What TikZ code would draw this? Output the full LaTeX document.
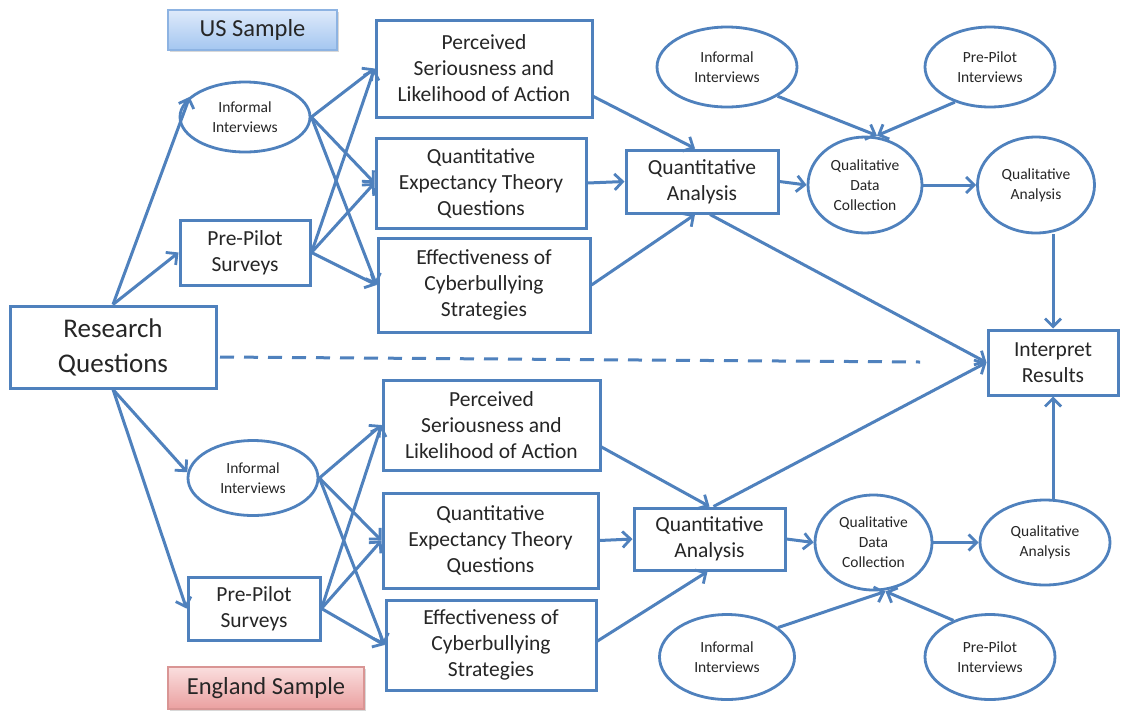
\documentclass[tikz,border=0pt]{standalone}
\usepackage{fontspec}
\setmainfont{Carlito}
\usetikzlibrary{arrows.meta,calc,shapes.geometric,shadows}

\definecolor{lineblue}{RGB}{79,129,189}
\definecolor{txt}{RGB}{38,38,38}

\begin{document}
\begin{tikzpicture}[x=1pt,y=-1pt,
  size/.style 2 args={minimum width=#1pt, minimum height=#2pt},
  box/.style={draw=lineblue, line width=3pt, fill=white, inner sep=0pt,
    align=center, text=txt, font=\fontsize{21.5}{26}\selectfont},
  oval/.style={ellipse, draw=lineblue, line width=2.8pt, fill=white, inner sep=0pt,
    align=center, text=txt, font=\fontsize{15.5}{20}\selectfont},
  tag/.style={inner sep=0pt, align=center, text=txt, font=\fontsize{24.5}{28}\selectfont,
    drop shadow={opacity=0.3, shadow xshift=1.5pt, shadow yshift=-1.5pt}},
  arr/.style={draw=lineblue, line width=3pt,
    -{Straight Barb[length=8pt, width=16pt, line width=2.8pt]}}
]
\useasboundingbox (0,0) rectangle (1135,716);
\fill[white] (0,0) rectangle (1135,716);

% sample labels
\node[tag, size={169}{40}, draw={rgb,255:red,141;green,179;blue,226}, line width=1.2pt,
  top color={rgb,255:red,222;green,234;blue,250}, bottom color={rgb,255:red,164;green,198;blue,240}]
  (us) at (252.5,30) {US Sample};
\node[tag, size={196}{42}, draw={rgb,255:red,217;green,149;blue,148}, line width=1.2pt,
  top color={rgb,255:red,250;green,222;blue,222}, bottom color={rgb,255:red,234;green,160;blue,160}]
  (eng) at (266,688) {England Sample};

% research questions
\node[box, size={206}{82}, font=\fontsize{27}{35}\selectfont] (rq) at (113,347) {Research\\Questions};

% upper branch
\node[oval, size={130}{70}] (inf1) at (245,117) {Informal\\Interviews};
\node[box, size={130}{65}] (pps1) at (245,252.5) {Pre-Pilot\\Surveys};
\node[box, size={216}{97}] (per1) at (484,68.5) {Perceived\\Seriousness and\\Likelihood of Action};
\node[box, size={210}{90}] (qet1) at (481,183) {Quantitative\\Expectancy Theory\\Questions};
\node[box, size={212}{94}] (eff1) at (484,285) {Effectiveness of\\Cyberbullying\\Strategies};
\node[box, size={152}{63}] (qan1) at (702,181.5) {Quantitative\\Analysis};
\node[oval, size={140}{80}] (ii1) at (727,67) {Informal\\Interviews};
\node[oval, size={130}{80}] (ppi1) at (990,67) {Pre-Pilot\\Interviews};
\node[oval, size={114}{96}] (qdc1) at (865,185) {Qualitative\\Data\\Collection};
\node[oval, size={117}{96}] (qal1) at (1036,185) {Qualitative\\Analysis};

% shared result
\node[box, size={130}{65}] (int) at (1053,362.5) {Interpret\\Results};

% lower branch
\node[oval, size={130}{75}] (inf2) at (253,478) {Informal\\Interviews};
\node[box, size={132}{63}] (pps2) at (254,608.5) {Pre-Pilot\\Surveys};
\node[box, size={217}{90}] (per2) at (491.5,425) {Perceived\\Seriousness and\\Likelihood of Action};
\node[box, size={215}{95}] (qet2) at (490.5,540.5) {Quantitative\\Expectancy Theory\\Questions};
\node[box, size={210}{90}] (eff2) at (491,645) {Effectiveness of\\Cyberbullying\\Strategies};
\node[box, size={151}{62}] (qan2) at (709.5,539) {Quantitative\\Analysis};
\node[oval, size={117}{95}] (qdc2) at (873.5,542.5) {Qualitative\\Data\\Collection};
\node[oval, size={130}{85}] (qal2) at (1045,542.5) {Qualitative\\Analysis};
\node[oval, size={135}{85}] (ii2) at (727,657) {Informal\\Interviews};
\node[oval, size={130}{85}] (ppi2) at (990,657) {Pre-Pilot\\Interviews};

% divider between the two samples
\coordinate (dl) at (220,357);
\coordinate (dr) at (920,362);
\draw[draw=lineblue, line width=3pt, dash pattern=on 14pt off 10pt] (dl) -- (dr);

% upper connectors
\draw[arr] (rq.north) -- (inf1.160);
\draw[arr] (rq.north) -- (pps1.west);
\foreach \s in {inf1.east, pps1.east}
  \foreach \t in {per1, qet1, eff1}
    \draw[arr] (\s) -- (\t.west);
\draw[arr] ([yshift=-28pt]per1.east) -- ([xshift=-7pt]qan1.north);
\draw[arr] (qet1.east) -- (qan1.west);
\draw[arr] (eff1.east) -- ([xshift=-7pt]qan1.south);
\draw[arr] ([xshift=8pt]qan1.south) -- (int.west);
\draw[arr] (qan1.east) -- (qdc1.west);
\draw[arr] (ii1.-30) -- ([xshift=12pt]qdc1.north);
\draw[arr] (ppi1.-135) -- ([xshift=12pt]qdc1.north);
\draw[arr] (qdc1.east) -- (qal1.west);
\draw[arr] (int.north |- qal1.south) -- (int.north);

% lower connectors
\draw[arr] (rq.south) -- (inf2.175);
\draw[arr] (rq.south) -- (pps2.west);
\foreach \s in {inf2.east, pps2.east}
  \foreach \t in {per2, qet2, eff2}
    \draw[arr] (\s) -- (\t.west);
\draw[arr] ([yshift=-22pt]per2.east) -- (qan2.north);
\draw[arr] (qet2.east) -- (qan2.west);
\draw[arr] ([yshift=4pt]eff2.east) -- ([xshift=-2pt]qan2.south);
\draw[arr] ([xshift=4pt]qan2.north) -- (int.west);
\draw[arr] (qan2.east) -- (qdc2.west);
\draw[arr] (qdc2.east) -- (qal2.west);
\draw[arr] (int.south |- qal2.north) -- (int.south);
\draw[arr] (ii2.30) -- ([xshift=12pt]qdc2.south);
\draw[arr] (ppi2.135) -- ([xshift=12pt]qdc2.south);
\end{tikzpicture}
\end{document}
